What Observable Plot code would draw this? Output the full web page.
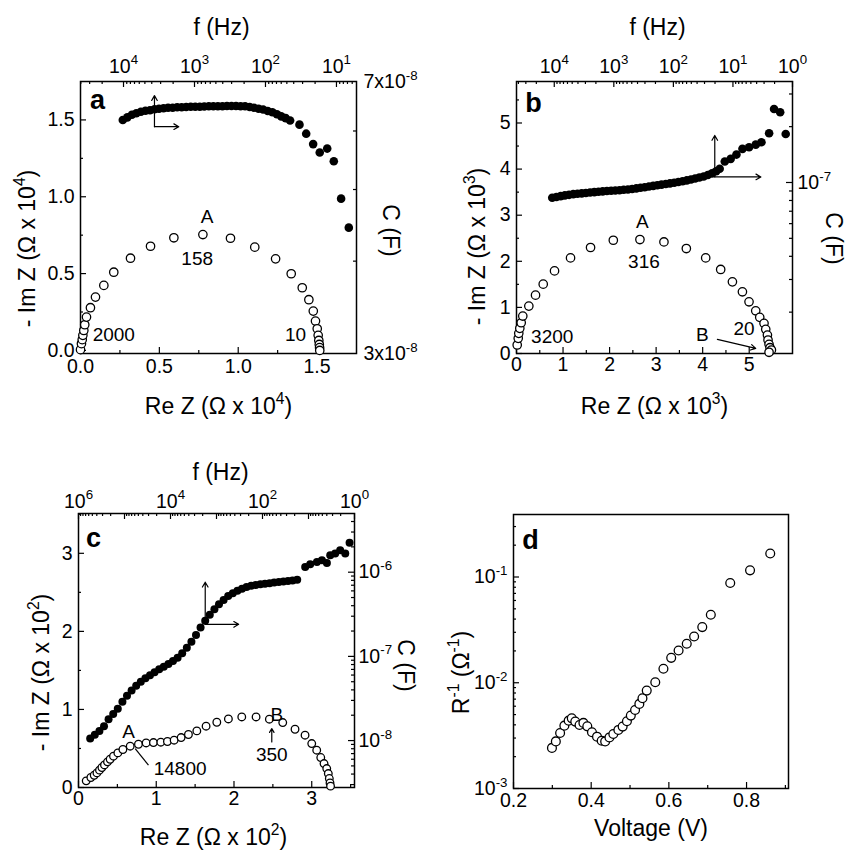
<!DOCTYPE html>
<html><head><meta charset="utf-8">
<script src="https://cdn.jsdelivr.net/npm/d3@7"></script>
<script src="https://cdn.jsdelivr.net/npm/@observablehq/plot@0.6"></script>
<style>
body{margin:0;background:#fff;}
#fig{position:relative;width:850px;height:853px;background:#fff;}
.panel{position:absolute;}
.panel svg{position:absolute;left:0;top:0;}
</style></head><body><div id="fig"></div>
<script>
// ================= DATA =================
// Panel a – Nyquist plot (units of 10^4 Ω)
const reZ_a = [0.000,0.006,0.011,0.015,0.021,0.027,0.038,0.063,0.095,0.148,0.211,0.317,0.444,0.592,0.776,0.951,1.105,1.237,1.336,1.406,1.448,1.476,1.490,1.501,1.507,1.511,1.514,1.516,1.517];
const imZ_a = [0.005,0.044,0.070,0.098,0.130,0.167,0.217,0.278,0.347,0.423,0.509,0.600,0.678,0.733,0.754,0.730,0.672,0.596,0.499,0.408,0.330,0.256,0.191,0.141,0.098,0.065,0.039,0.018,0.000];
// Panel a – capacitance vs frequency (C in units of 10^-8 F)
const f_a = [10233,8831,7621,6592,5689,4909,4236,3656,3162,2729,2355,2032,1754,1517,1309,1130,975,841,728,628,542,468,404,349,301,260,224,194,167,145,125,108,93,80,69,60,52,45,33.2,26.7,21.3,17.2,13.5,10.9,8.6,6.7];
const C_a_e8 = [6.21,6.26,6.31,6.34,6.37,6.39,6.40,6.42,6.43,6.44,6.45,6.45,6.46,6.46,6.465,6.47,6.47,6.47,6.475,6.48,6.48,6.48,6.48,6.485,6.485,6.485,6.48,6.48,6.465,6.45,6.43,6.415,6.385,6.36,6.32,6.28,6.245,6.20,6.12,5.95,5.76,5.61,5.68,5.46,4.86,4.44];

// Panel b – Nyquist (units of 10^3 Ω)
const reZ_b = [0.015,0.037,0.049,0.071,0.101,0.135,0.265,0.409,0.574,0.817,1.161,1.591,2.080,2.652,3.168,3.649,4.065,4.387,4.639,4.854,4.996,5.140,5.226,5.318,5.355,5.391,5.404,5.426,5.447,5.477,5.426];
const imZ_b = [0.184,0.329,0.437,0.545,0.667,0.812,1.028,1.266,1.504,1.792,2.074,2.299,2.457,2.472,2.420,2.277,2.074,1.823,1.554,1.338,1.121,0.926,0.784,0.654,0.524,0.400,0.292,0.199,0.126,0.076,0.026];
// Panel b – capacitance (units of 10^-8 F)
const f_b = [10814,9184,7798,6637,5636,4797,4074,3459,2944,2500,2128,1807,1538,1306,1109,944,802,682,579,492,419,356,303,257,218,186,158,134,114,96.8,82.4,70.0,59.6,50.6,43.1,36.6,31.0,26.4,22.4,19.1,16.7,13.7,10.9,8.73,6.92,5.36,4.14,3.32,2.47,2.04,1.61,1.30];
const C_b_e8 = [8.27,8.35,8.44,8.52,8.58,8.65,8.69,8.74,8.78,8.83,8.87,8.92,8.96,9.00,9.02,9.05,9.08,9.13,9.17,9.22,9.29,9.36,9.43,9.51,9.59,9.66,9.74,9.82,9.89,9.97,10.07,10.16,10.26,10.37,10.50,10.63,10.78,10.97,11.2,11.5,11.85,12.97,13.41,14.14,15.18,15.48,16.0,16.47,18.41,24.9,23.9,18.27];

// Panel c – Nyquist (units of 10^2 Ω)
const reZ_c = [0.099,0.159,0.202,0.237,0.270,0.301,0.334,0.373,0.407,0.450,0.506,0.571,0.665,0.771,0.870,0.964,1.059,1.144,1.230,1.320,1.414,1.522,1.641,1.779,1.928,2.100,2.284,2.455,2.627,2.785,2.914,3.000,3.064,3.116,3.158,3.193,3.213,3.226,3.235,3.242];
const imZ_c = [0.085,0.128,0.157,0.187,0.222,0.256,0.289,0.328,0.362,0.401,0.443,0.487,0.529,0.554,0.571,0.576,0.580,0.589,0.606,0.640,0.679,0.725,0.785,0.836,0.878,0.904,0.904,0.875,0.832,0.746,0.670,0.563,0.478,0.384,0.307,0.243,0.179,0.115,0.059,0.017];
// Panel c – capacitance (F)
const f_c = [557000,442000,351000,279000,222000,176000,140000,111000,88300,70100,55700,44200,35100,27900,22200,17600,14000,11100,8830,7010,5570,4420,3510,2790,2220,1760,1400,1110,883,701,557,442,351,279,222,176,140,111,88.3,70.1,55.7,44.2,35.1,27.9,22.2,17.6,11.8,9.18,6.56,5.11,3.98,3.37,2.63,2.05,1.59,1.28];
const C_c = [1.059e-8,1.169e-8,1.297e-8,1.483e-8,1.795e-8,2.075e-8,2.387e-8,2.89e-8,3.40e-8,3.94e-8,4.47e-8,4.99e-8,5.49e-8,5.97e-8,6.46e-8,7.05e-8,7.55e-8,8.13e-8,8.80e-8,9.62e-8,1.091e-7,1.268e-7,1.496e-7,1.795e-7,2.21e-7,2.65e-7,3.12e-7,3.64e-7,4.17e-7,4.69e-7,5.20e-7,5.61e-7,6.00e-7,6.35e-7,6.67e-7,6.89e-7,7.06e-7,7.18e-7,7.30e-7,7.40e-7,7.52e-7,7.65e-7,7.76e-7,7.86e-7,7.99e-7,8.11e-7,1.156e-6,1.245e-6,1.325e-6,1.388e-6,1.289e-6,1.592e-6,1.667e-6,1.825e-6,1.667e-6,2.23e-6];

// Panel d – inverse resistance vs voltage
const V_d = [0.299,0.309,0.320,0.331,0.342,0.350,0.359,0.370,0.380,0.390,0.402,0.415,0.427,0.436,0.447,0.457,0.470,0.481,0.492,0.502,0.513,0.524,0.532,0.543,0.565,0.586,0.606,0.625,0.646,0.665,0.686,0.708,0.758,0.809,0.861];
const Rinv_d = [2.42e-3,2.79e-3,3.35e-3,3.93e-3,4.38e-3,4.61e-3,4.29e-3,3.99e-3,4.17e-3,3.87e-3,3.40e-3,3.09e-3,2.83e-3,2.79e-3,3.04e-3,3.28e-3,3.58e-3,3.85e-3,4.32e-3,4.89e-3,5.53e-3,6.31e-3,7.13e-3,8.43e-3,1.01e-2,1.355e-2,1.72e-2,2.02e-2,2.34e-2,2.74e-2,3.36e-2,4.40e-2,8.77e-2,0.1156,0.1667];

// Annotations
const notes_a = [{t:"A",x:0.803,y:0.867},{t:"158",x:0.740,y:0.596},{t:"2000",x:0.211,y:0.098},{t:"10",x:1.363,y:0.098}];
const arrows_a = [{x1:0.469,y1:1.456,x2:0.469,y2:1.658},{x1:0.469,y1:1.456,x2:0.623,y2:1.456}];
const notes_b = [{t:"A",x:2.703,y:2.853},{t:"316",x:2.738,y:1.987},{t:"3200",x:0.768,y:0.364},{t:"20",x:4.888,y:0.524},{t:"B",x:3.994,y:0.400}];
const arrows_b = [{x1:4.26,y1:3.83,x2:4.26,y2:4.73},{x1:4.26,y1:3.83,x2:5.25,y2:3.83},{x1:4.316,y1:0.307,x2:5.14,y2:0.11}];
const notes_c = [{t:"A",x:0.643,y:0.712},{t:"14800",x:1.307,y:0.243},{t:"B",x:2.550,y:0.926},{t:"350",x:2.486,y:0.414}];
const links_c = [{x1:0.729,y1:0.499,x2:0.9,y2:0.286}];
const arrows_c = [{x1:1.63,y1:2.09,x2:1.63,y2:2.63},{x1:1.63,y1:2.09,x2:2.06,y2:2.09},{x1:2.486,y1:0.584,x2:2.486,y2:0.755}];

// Tick values
const ticks_a = [0,0.5,1.0,1.5], minor_a = [0.25,0.75,1.25];
const fTicks_a = [1e4,1e3,1e2,1e1];
const CTicks_a = [3e-8,7e-8], CMinor_a = [4e-8,5e-8,6e-8];
const ticks_b = [0,1,2,3,4,5], minor_b = [0.5,1.5,2.5,3.5,4.5,5.5];
const fTicks_b = [1e4,1e3,1e2,1e1,1e0];
const CTicks_b = [1e-7];
const ticks_c = [0,1,2,3], minor_c = [0.5,1.5,2.5,3.5];
const fLabels_c = [1e6,1e4,1e2,1e0], fMajor_c = [1e6,1e5,1e4,1e3,1e2,1e1,1e0];
const CTicks_c = [1e-8,1e-7,1e-6];
const vTicks_d = [0.2,0.4,0.6,0.8], vMinor_d = [0.3,0.5,0.7,0.9];
const rTicks_d = [1e-3,1e-2,1e-1];

// ================= HELPERS =================
const FONT = '"Liberation Sans", Arial, Helvetica, sans-serif';
const TICKFS = 19.5, TITLEFS = 23, NOTEFS = 19;
const zip2 = (xs, ys) => xs.map((x, i) => ({x, y: ys[i]}));
function logMinor(a, b) {
  const lo = Math.min(a, b), hi = Math.max(a, b), out = [];
  for (let e = Math.floor(Math.log10(lo)); e <= Math.ceil(Math.log10(hi)); e++)
    for (let k = 2; k <= 9; k++) { const v = k * Math.pow(10, e); if (v >= lo && v <= hi) out.push(v); }
  return out;
}
const supLog = d => `10^{${Math.round(Math.log10(d))}}`;
const tB = (v, H, L) => Plot.tickX(v, {x: d => d, insetTop: H - L, strokeWidth: 1.2});
const tT = (v, H, L) => Plot.tickX(v, {x: d => d, insetBottom: H - L, strokeWidth: 1.2});
const tL = (v, W, L) => Plot.tickY(v, {y: d => d, insetRight: W - L, strokeWidth: 1.2});
const tR = (v, W, L) => Plot.tickY(v, {y: d => d, insetLeft: W - L, strokeWidth: 1.2});
const openDots = (data, r) => Plot.dot(data, {x: "x", y: "y", r, stroke: "black", strokeWidth: 1.3, fill: "white"});
const fullDots = (data, r) => Plot.dot(data, {x: "x", y: "y", r, fill: "black", stroke: "none"});
const notes = (data) => Plot.text(data, {x: "x", y: "y", text: "t", fontSize: NOTEFS});
const arrows = (data) => Plot.arrow(data, {x1: "x1", y1: "y1", x2: "x2", y2: "y2", headLength: 7, strokeWidth: 1.2});
const titleBottom = (s, dy, dx = 0) => Plot.text([s], {text: d => d, frameAnchor: "bottom", textAnchor: "middle", lineAnchor: "bottom", dy, dx, fontSize: TITLEFS});
const titleTop = (s, dy, dx = 0) => Plot.text([s], {text: d => d, frameAnchor: "top", textAnchor: "middle", lineAnchor: "top", dy: -dy, dx, fontSize: TITLEFS});
const titleLeft = (s, dx, dy) => Plot.text([s], {text: d => d, frameAnchor: "left", textAnchor: "middle", lineAnchor: "top", rotate: -90, dx: -dx, dy, fontSize: TITLEFS});
const titleRight = (s, dx, dy) => Plot.text([s], {text: d => d, frameAnchor: "right", textAnchor: "middle", lineAnchor: "middle", rotate: 90, dx, dy, fontSize: TITLEFS});
const letter = (s, dx, dy) => Plot.text([s], {text: d => d, frameAnchor: "top-left", textAnchor: "middle", lineAnchor: "middle", dx, dy, fontSize: 27, fontWeight: "bold"});

function supify(svg) {
  const ns = "http://www.w3.org/2000/svg";
  svg.querySelectorAll("text").forEach(t => {
    const s = t.textContent;
    if (!s.includes("^{")) return;
    const fs = parseFloat(getComputedStyle(t).fontSize) || 18;
    const up = (0.42 * fs).toFixed(2);
    while (t.firstChild) t.removeChild(t.firstChild);
    const re = /\^\{([^}]*)\}/g;
    let last = 0, m, raised = false;
    const plain = (str) => {
      const ts = document.createElementNS(ns, "tspan");
      ts.textContent = str;
      if (raised) { ts.setAttribute("dy", up); raised = false; }
      t.appendChild(ts);
    };
    while ((m = re.exec(s))) {
      if (m.index > last) plain(s.slice(last, m.index));
      const sup = document.createElementNS(ns, "tspan");
      sup.textContent = m[1];
      sup.setAttribute("dy", "-" + up);
      sup.setAttribute("font-size", (0.68 * fs).toFixed(1));
      t.appendChild(sup);
      raised = true;
      last = re.lastIndex;
    }
    if (last < s.length) plain(s.slice(last));
  });
}

const fig = document.getElementById("fig");
function panel({left, top, width, height, m, layers}) {
  const div = document.createElement("div");
  div.className = "panel";
  Object.assign(div.style, {left: left + "px", top: top + "px", width: width + "px", height: height + "px"});
  fig.appendChild(div);
  for (const spec of layers) {
    const svg = Plot.plot({
      width, height, marginTop: m[0], marginRight: m[1], marginBottom: m[2], marginLeft: m[3],
      style: {fontFamily: FONT, background: "transparent", overflow: "visible", maxWidth: "none", color: "black"},
      ...spec
    });
    div.appendChild(svg);
    supify(svg);
  }
}

// ================= PANEL a =================
{
  const m = [81, 69, 72, 80], W = 425 - 80 - 69, H = 425 - 81 - 72;
  panel({left: 0, top: 0, width: 425, height: 425, m, layers: [
    {
      x: {type: "linear", domain: [0, 1.75]},
      y: {type: "linear", domain: [-0.02, 1.75]},
      marks: [
        Plot.frame({stroke: "black", strokeWidth: 1.5}),
        tB(ticks_a, H, 6), tB(minor_a, H, 3), tL(ticks_a, W, 6), tL(minor_a, W, 3),
        Plot.axisX(ticks_a, {anchor: "bottom", tickSize: 0, tickPadding: 6, tickFormat: d3.format(".1f"), fontSize: TICKFS, label: null}),
        Plot.axisY(ticks_a, {anchor: "left", tickSize: 0, tickPadding: 6, tickFormat: d3.format(".1f"), fontSize: TICKFS, label: null}),
        openDots(zip2(reZ_a, imZ_a), 4.2),
        notes(notes_a), arrows(arrows_a),
        titleBottom("Re Z (Ω x 10^{4})", 60),
        titleLeft("- Im Z (Ω x 10^{4})", 62, 31),
        letter("a", 17, 19)
      ]
    },
    {
      x: {type: "log", domain: [40360, 5.22]},
      y: {type: "log", domain: [3e-8, 7e-8]},
      marks: [
        tT(fTicks_a, H, 6), tT(logMinor(40360, 5.22), H, 3), tR(CMinor_a, W, 3),
        Plot.axisX(fTicks_a, {anchor: "top", tickSize: 0, tickPadding: 9, tickFormat: supLog, fontSize: TICKFS, label: null}),
        Plot.axisY(CTicks_a, {anchor: "right", tickSize: 0, tickPadding: 7, tickFormat: d => `${Math.round(d * 1e8)}x10^{-8}`, fontSize: TICKFS, label: null}),
        fullDots(f_a.map((f, i) => ({x: f, y: C_a_e8[i] * 1e-8})), 4.3),
        titleTop("f (Hz)", 63, 3),
        titleRight("C (F)", 34, 13)
      ]
    }
  ]});
}

// ================= PANEL b =================
{
  const m = [81, 58, 72, 91], W = 425 - 91 - 58, H = 425 - 81 - 72;
  panel({left: 425, top: 0, width: 425, height: 425, m, layers: [
    {
      x: {type: "linear", domain: [0, 5.93]},
      y: {type: "linear", domain: [0, 5.9]},
      marks: [
        Plot.frame({stroke: "black", strokeWidth: 1.5}),
        tB(ticks_b, H, 6), tB(minor_b, H, 3), tL(ticks_b, W, 6), tL(minor_b, W, 3),
        Plot.axisX(ticks_b, {anchor: "bottom", tickSize: 0, tickPadding: 4, tickFormat: d3.format("d"), fontSize: TICKFS, label: null}),
        Plot.axisY(ticks_b, {anchor: "left", tickSize: 0, tickPadding: 6, tickFormat: d3.format("d"), fontSize: TICKFS, label: null}),
        openDots(zip2(reZ_b, imZ_b), 4.2),
        notes(notes_b), arrows(arrows_b),
        titleBottom("Re Z (Ω x 10^{3})", 60),
        titleLeft("- Im Z (Ω x 10^{3})", 48, 29),
        letter("b", 17, 22)
      ]
    },
    {
      x: {type: "log", domain: [43050, 1]},
      y: {type: "log", domain: [1.197e-8, 3.503e-7]},
      marks: [
        tT(fTicks_b, H, 6), tT(logMinor(43050, 1), H, 3),
        tR(CTicks_b, W, 6), tR(logMinor(1.197e-8, 3.503e-7), W, 3),
        Plot.axisX(fTicks_b, {anchor: "top", tickSize: 0, tickPadding: 9, tickFormat: supLog, fontSize: TICKFS, label: null}),
        Plot.axisY(CTicks_b, {anchor: "right", tickSize: 0, tickPadding: 5, tickFormat: supLog, fontSize: TICKFS, label: null}),
        fullDots(f_b.map((f, i) => ({x: f, y: C_b_e8[i] * 1e-8})), 4.3),
        titleTop("f (Hz)", 63, 3),
        titleRight("C (F)", 41, 21)
      ]
    }
  ]});
}

// ================= PANEL c =================
{
  const m = [88, 71, 66, 78], W = 425 - 78 - 71, H = 428 - 88 - 66;
  panel({left: 0, top: 425, width: 425, height: 428, m, layers: [
    {
      x: {type: "linear", domain: [0, 3.55]},
      y: {type: "linear", domain: [0, 3.51]},
      marks: [
        Plot.frame({stroke: "black", strokeWidth: 1.5}),
        tB(ticks_c, H, 6), tB(minor_c, H, 3), tL(ticks_c, W, 6), tL(minor_c, W, 3),
        Plot.axisX(ticks_c, {anchor: "bottom", tickSize: 0, tickPadding: 4, tickFormat: d3.format("d"), fontSize: TICKFS, label: null}),
        Plot.axisY(ticks_c, {anchor: "left", tickSize: 0, tickPadding: 6, tickFormat: d3.format("d"), fontSize: TICKFS, label: null}),
        openDots(zip2(reZ_c, imZ_c), 3.8),
        notes(notes_c), arrows(arrows_c),
        Plot.link(links_c, {x1: "x1", y1: "y1", x2: "x2", y2: "y2", strokeWidth: 1.2}),
        titleBottom("Re Z (Ω x 10^{2})", 57, -3),
        titleLeft("- Im Z (Ω x 10^{2})", 46, 22),
        letter("c", 15, 25)
      ]
    },
    {
      x: {type: "log", domain: [1e6, 1]},
      y: {type: "log", domain: [2.77e-9, 4.98e-6]},
      marks: [
        tT(fMajor_c, H, 6), tT(logMinor(1e6, 1), H, 3),
        tR(CTicks_c, W, 6), tR(logMinor(2.77e-9, 4.98e-6), W, 3),
        Plot.axisX(fLabels_c, {anchor: "top", tickSize: 0, tickPadding: 6, tickFormat: supLog, fontSize: TICKFS, label: null}),
        Plot.axisY(CTicks_c, {anchor: "right", tickSize: 0, tickPadding: 4, tickFormat: supLog, fontSize: TICKFS, label: null}),
        fullDots(f_c.map((f, i) => ({x: f, y: C_c[i]})), 4),
        titleTop("f (Hz)", 50, 4),
        titleRight("C (F)", 51, 15)
      ]
    }
  ]});
}

// ================= PANEL d =================
{
  const m = [89, 62, 65, 88], W = 425 - 88 - 62, H = 428 - 89 - 65;
  panel({left: 425, top: 425, width: 425, height: 428, m, layers: [
    {
      x: {type: "linear", domain: [0.2, 0.908]},
      y: {type: "log", domain: [1e-3, 0.39]},
      marks: [
        Plot.frame({stroke: "black", strokeWidth: 1.5}),
        tB(vTicks_d, H, 6), tB(vMinor_d, H, 3), tL(rTicks_d, W, 6), tL(logMinor(1e-3, 0.39), W, 3),
        Plot.axisX(vTicks_d, {anchor: "bottom", tickSize: 0, tickPadding: 5, tickFormat: d3.format(".1f"), fontSize: TICKFS, label: null}),
        Plot.axisY(rTicks_d, {anchor: "left", tickSize: 0, tickPadding: 6, tickFormat: supLog, fontSize: TICKFS, label: null}),
        openDots(zip2(V_d, Rinv_d), 4.4),
        titleBottom("Voltage (V)", 47),
        titleLeft("R^{-1} (Ω^{-1})", 61, 21),
        letter("d", 17, 26)
      ]
    }
  ]});
}
</script></body></html>
